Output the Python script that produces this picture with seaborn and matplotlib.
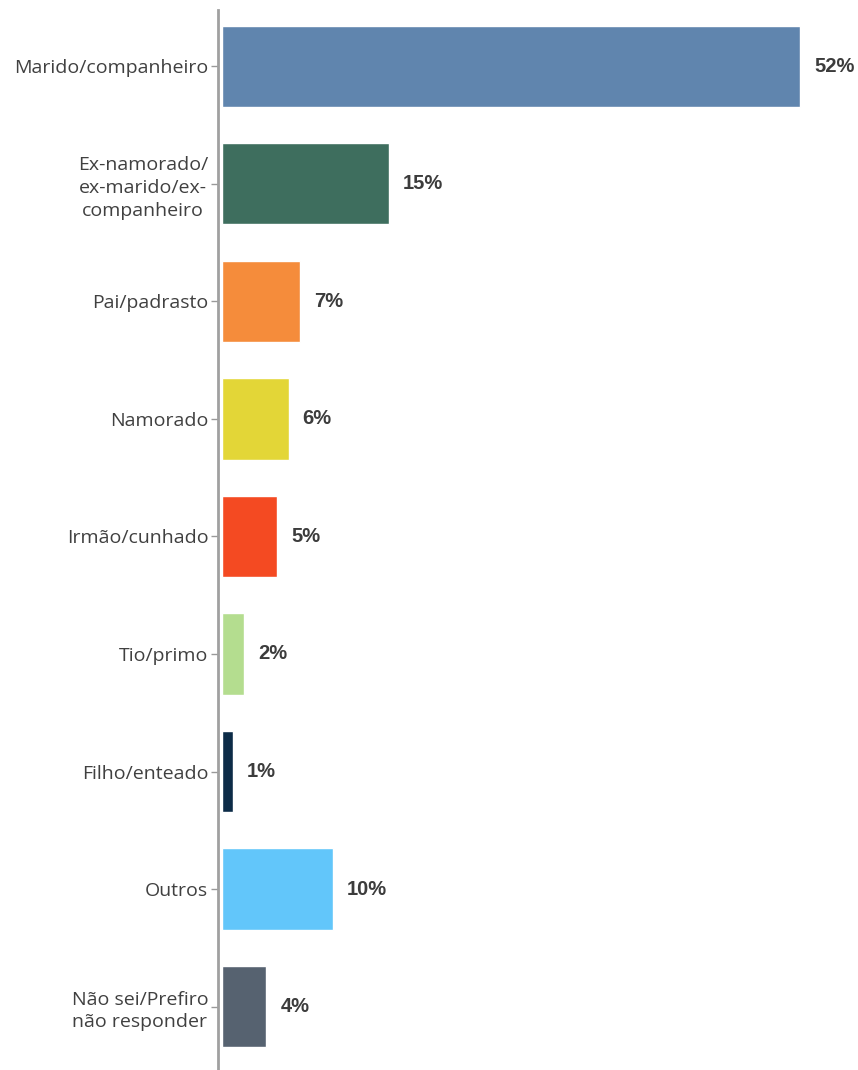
import numpy as np
import pandas as pd
import seaborn as sns
import matplotlib.pyplot as plt

### Data
categories = ["Marido/companheiro", "Ex-namorado/\nex-marido/ex-\ncompanheiro", "Pai/padrasto",
              "Namorado", "Irmão/cunhado", "Tio/primo", "Filho/enteado", "Outros",
              "Não sei/Prefiro\nnão responder"]
values = [52, 15, 7, 6, 5, 2, 1, 10, 4]
colors = ["#6085AE", "#3E6E5E", "#F58C3B", "#E3D637", "#F44A22", "#B4DD8F", "#0C2B47",
          "#62C6FA", "#566270"]

df = pd.DataFrame({"categoria": categories, "pct": values})

sns.set_theme(style="white")
plt.rcParams['font.family'] = ['Open Sans', 'DejaVu Sans']

fig = plt.figure(figsize=(8.58, 10.70), dpi=100)
ax = fig.add_axes([218/858, 0.0, 1 - 218/858, 1 - 10/1070])

sns.barplot(data=df, y="categoria", x="pct", hue="categoria", palette=colors,
            order=categories, width=0.69, legend=False, ax=ax, saturation=1)

## Value labels at the end of each bar
for i, v in enumerate(values):
    ax.text(v + 1.25, i, f"{v}%", va="center", ha="left", fontsize=14.5,
            fontweight="bold", color="#3C3C3C", family="Liberation Sans")

ax.set_xlim(-0.35, 57.2)
ax.set_ylim(8.54, -0.48)
ax.set_xlabel("")
ax.set_ylabel("")
ax.set_xticks([])
ax.tick_params(axis="y", length=5, width=1, color="#999999", labelsize=14,
               labelcolor="#404040", pad=2, left=True)
for lab in ax.get_yticklabels():
    lab.set_multialignment("center")
    lab.set_linespacing(1.35)
for s in ["top", "right", "bottom"]:
    ax.spines[s].set_visible(False)
ax.spines["left"].set_color("#A0A0A0")
ax.spines["left"].set_linewidth(2)

fig.savefig("out.png", dpi=100)
plt.close()
